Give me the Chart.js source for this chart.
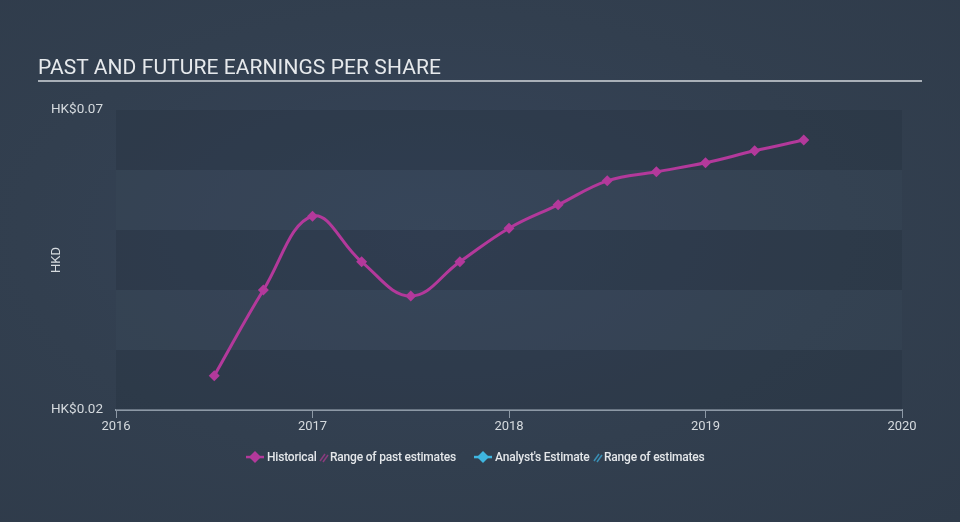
<!DOCTYPE html>
<html>
<head>
<meta charset="utf-8">
<script src="https://cdn.jsdelivr.net/npm/chart.js@4"></script>
<style>
  html, body { margin:0; padding:0; width:960px; height:522px; overflow:hidden; }
  body { background: radial-gradient(ellipse at 45% 45%, #36445a 0%, #323f4f 55%, #2f3b4a 100%); font-family: Roboto, "Noto Sans", sans-serif; }
  #wrap { position:absolute; left:0; top:0; width:960px; height:522px; }
  #title { position:absolute; left:38px; top:55px; color:#e6e9ec; font-size:21px; letter-spacing:0.08px; font-family:Roboto, sans-serif; }
  #rule { position:absolute; left:38px; top:80px; width:884px; height:2px; background:#a9b0b8; }
  #legend { position:absolute; top:449px; left:0; width:960px; height:18px; font-family: Roboto, sans-serif; font-weight:500; font-size:12px; letter-spacing:-0.2px; color:#e4e7ea; }
  .li { position:absolute; top:0; white-space:nowrap; line-height:16px; }
  canvas { position:absolute; left:0; top:0; }
</style>
</head>
<body>
<div id="wrap">
  <canvas id="c" width="960" height="522"></canvas>
  <div id="title">PAST AND FUTURE EARNINGS PER SHARE</div>
  <div id="rule"></div>
  <div id="legend">
    <svg class="li" style="left:246px;top:1px" width="18" height="14"><polygon points="9,1 15,7 9,13 3,7" fill="#b3399b"/><rect x="0" y="5.8" width="18" height="2.5" fill="#b3399b"/></svg>
    <span class="li" style="left:267px">Historical</span>
    <svg class="li" style="left:319px;top:3px" width="10" height="11"><line x1="1" y1="9" x2="6" y2="2" stroke="#8a3c7e" stroke-width="1.5"/><line x1="4" y1="10" x2="9" y2="3" stroke="#8a3c7e" stroke-width="1.5"/></svg>
    <span class="li" style="left:330px">Range of past estimates</span>
    <svg class="li" style="left:474px;top:1px" width="18" height="14"><polygon points="9,1 15,7 9,13 3,7" fill="#3fb6e0"/><rect x="0" y="5.8" width="18" height="2.5" fill="#3fb6e0"/></svg>
    <span class="li" style="left:495px">Analyst's Estimate</span>
    <svg class="li" style="left:593px;top:3px" width="10" height="11"><line x1="1" y1="9" x2="6" y2="2" stroke="#3a8fb5" stroke-width="1.5"/><line x1="4" y1="10" x2="9" y2="3" stroke="#3a8fb5" stroke-width="1.5"/></svg>
    <span class="li" style="left:604px">Range of estimates</span>
  </div>
</div>
<script>
// ---- data ----
const periods = [2016.5, 2016.75, 2017.0, 2017.25, 2017.5, 2017.75, 2018.0, 2018.25, 2018.5, 2018.75, 2019.0, 2019.25, 2019.5];
const epsHistorical = [0.0257, 0.0400, 0.0523, 0.0447, 0.0390, 0.0447, 0.0503, 0.0542, 0.0582, 0.0597, 0.0612, 0.0632, 0.0650];
const xTickYears = [2016, 2017, 2018, 2019, 2020];
const yTickValues = [0.02, 0.07];
const yAxisTitle = 'HKD';
const currency = 'HK$';

const bandPlugin = {
  id: 'bands',
  beforeDatasetsDraw(chart) {
    const {ctx, chartArea, scales} = chart;
    const y = scales.y;
    ctx.save();
    for (let v = 0.02, i = 0; v < 0.0699; v += 0.01, i++) {
      const top = y.getPixelForValue(v + 0.01);
      const bot = y.getPixelForValue(v);
      ctx.fillStyle = (i % 2 === 0) ? 'rgba(38,50,64,0.35)' : 'rgba(60,76,92,0.25)';
      ctx.fillRect(chartArea.left, top, chartArea.right - chartArea.left, bot - top);
    }
    ctx.restore();
  },
  afterDraw(chart) {
    const {ctx, chartArea} = chart;
    ctx.save();
    ctx.translate(57, (chartArea.top + chartArea.bottom) / 2);
    ctx.rotate(-Math.PI / 2);
    ctx.fillStyle = '#d5dade';
    ctx.font = '13px Roboto, sans-serif';
    ctx.textAlign = 'center';
    ctx.textBaseline = 'middle';
    ctx.fillText(yAxisTitle, 0, 0);
    ctx.restore();
  }
};

new Chart(document.getElementById('c'), {
  type: 'line',
  data: {
    datasets: [{
      data: periods.map((p, i) => ({x: p, y: epsHistorical[i]})),
      borderColor: '#b3399b',
      backgroundColor: '#b3399b',
      borderWidth: 3,
      tension: 0.4,
      pointStyle: 'rectRot',
      pointRadius: 5.5,
      pointBorderWidth: 0,
      fill: false
    }]
  },
  options: {
    responsive: false,
    animation: false,
    events: [],
    layout: { padding: { left: 0, right: 58, top: 110, bottom: 86 } },
    plugins: { legend: { display: false }, tooltip: { enabled: false } },
    scales: {
      x: {
        type: 'linear',
        min: 2016, max: 2020,
        afterBuildTicks: (s) => { s.ticks = xTickYears.map(v => ({value: v})); },
        afterFit: (s) => { s.height = 26; },
        ticks: { color: '#d5dade', font: { family: 'Roboto', size: 13 }, padding: 1, callback: v => String(v) },
        grid: { drawOnChartArea: false, color: '#8d99a6', tickLength: 8, lineWidth: 1 },
        border: { color: '#8d99a6', width: 2 }
      },
      y: {
        min: 0.02, max: 0.07,
        afterBuildTicks: (s) => { s.ticks = yTickValues.map(v => ({value: v})); },
        afterFit: (s) => { s.width = 116; },
        ticks: { color: '#d5dade', font: { family: 'Roboto', size: 13.5 }, padding: 13, callback: v => currency + v.toFixed(2) },
        grid: { display: false, drawTicks: false },
        border: { display: false }
      }
    }
  },
  plugins: [bandPlugin]
});
</script>
</body>
</html>
